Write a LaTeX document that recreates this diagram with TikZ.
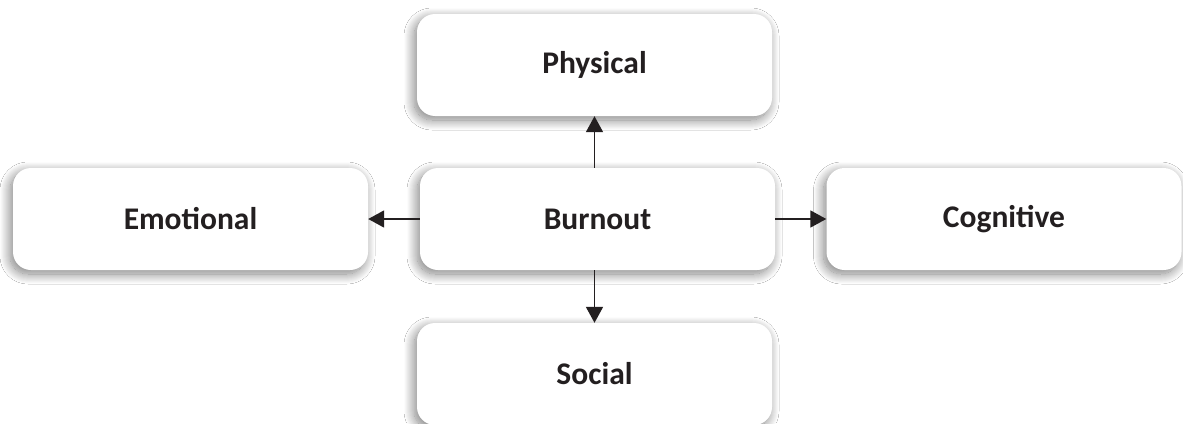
\documentclass[tikz,border=0pt]{standalone}
\usepackage{fontspec}
\setmainfont{Carlito}
\usetikzlibrary{arrows.meta,shadows.blur}
\definecolor{ink}{HTML}{231F20}
\tikzset{
  card/.style={
    fill=white, draw=none, rounded corners=18pt,
    minimum width=355pt, minimum height=102pt,
    inner sep=0pt, text=ink,
    font=\fontsize{31.5}{36}\selectfont\bfseries,
    blur shadow={shadow xshift=-3pt, shadow yshift=-4pt,
                 shadow blur radius=10pt, shadow blur steps=20,
                 shadow opacity=50}
  },
  link/.style={draw=ink, line width=1.8pt,
    -{Triangle[length=16pt,width=17pt]}}
}
\begin{document}
\begin{tikzpicture}[x=1pt,y=-1pt]
  \fill[white] (0,0) rectangle (1183,423);
  \useasboundingbox (0,0) rectangle (1183,423);
  \clip (0,0) rectangle (1183,423);
  \node[card] (burnout)   at (597.5,219) {Burnout};
  \node[card] (physical)  at (594.5,65)  {Physical};
  \node[card] (emotional) at (190.5,219) {Emotional};
  \node[card] (cognitive) at (1004,219)  {Cognitive};
  \node[card] (social)    at (594.5,374) {Social};
  \draw[link] (burnout.north -| physical) -- (physical.south);
  \draw[link] (burnout.west) -- (emotional.east);
  \draw[link] (burnout.east) -- (cognitive.west);
  \draw[link] (burnout.south -| social) -- (social.north);
\end{tikzpicture}
\end{document}
